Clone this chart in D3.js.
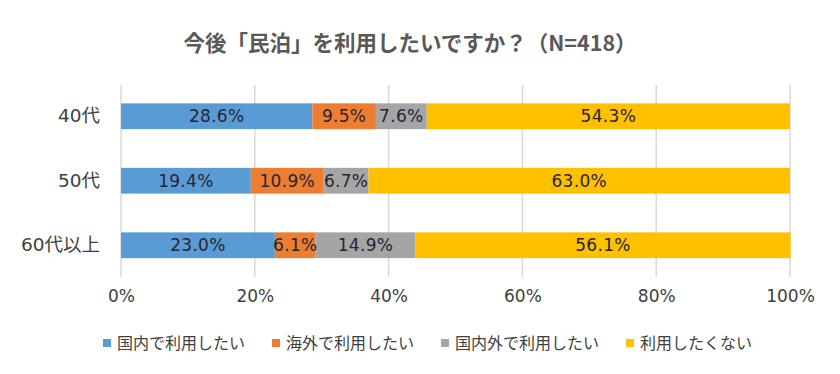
<!DOCTYPE html>
<html><head><meta charset="utf-8">
<script src="https://cdn.jsdelivr.net/npm/d3@7"></script>
<style>
html,body{margin:0;padding:0;background:#fff;}
svg{display:block;font-family:"DejaVu Sans","Noto Sans CJK JP",sans-serif;}
</style></head>
<body><svg id="c" width="840" height="374"></svg>
<script>
const categories = ["40代", "50代", "60代以上"];
const seriesNames = ["国内で利用したい", "海外で利用したい", "国内外で利用したい", "利用したくない"];
const domestic = [28.6, 19.4, 23.0];
const overseas = [9.5, 10.9, 6.1];
const both = [7.6, 6.7, 14.9];
const notUse = [54.3, 63.0, 56.1];
const tickValues = [0, 20, 40, 60, 80, 100];
const colors = ["#5B9BD5", "#ED7D31", "#A5A5A5", "#FFC000"];

const FONT = "\"DejaVu Sans\",\"Noto Sans CJK JP\",sans-serif";
const seriesValues = [domestic, overseas, both, notUse];
const rows = categories.map((c, i) => {
  const r = {cat: c};
  seriesNames.forEach((s, j) => r[s] = seriesValues[j][i]);
  return r;
});
const stacked = d3.stack().keys(seriesNames)(rows);

const svg = d3.select("#c");
const x = d3.scaleLinear().domain([0, 100]).range([121, 790]);
const y = d3.scaleBand().domain(categories).range([84, 277.5]).paddingInner(0.6).paddingOuter(0.3);

// title
svg.append("text").attr("x", 410).attr("y", 51).attr("text-anchor", "middle")
  .attr("font-size", 21.5).attr("font-weight", "bold").attr("fill", "#595959")
  .attr("font-family", "\"Noto Sans CJK JP\",sans-serif")
  .text("今後「民泊」を利用したいですか？（N=418）");

// gridlines
svg.append("g").selectAll("line").data(tickValues).join("line")
  .attr("x1", d => x(d)).attr("x2", d => x(d))
  .attr("y1", 85).attr("y2", 277)
  .attr("stroke", "#D9D9D9").attr("stroke-width", 1.5);

// x axis labels
const xAxis = d3.axisBottom(x).tickValues(tickValues).tickFormat(d => d + "%").tickSize(0).tickPadding(0);
const gx = svg.append("g").attr("transform", "translate(0,290)").call(xAxis);
gx.select(".domain").remove();
gx.selectAll("text").attr("font-size", 17).attr("fill", "#404040").attr("font-family", FONT);

// y axis labels
const yAxis = d3.axisLeft(y).tickSize(0).tickPadding(0);
const gy = svg.append("g").attr("transform", "translate(100,0)").call(yAxis);
gy.select(".domain").remove();
gy.selectAll("text").attr("font-size", 18.5).attr("fill", "#404040").attr("font-family", FONT);

// bars
const layers = svg.append("g").selectAll("g").data(stacked).join("g")
  .attr("fill", (d, i) => colors[i]);
layers.selectAll("rect").data(d => d).join("rect")
  .attr("x", d => x(d[0])).attr("width", d => x(d[1]) - x(d[0]))
  .attr("y", d => y(d.data.cat)).attr("height", y.bandwidth());

// data labels
const lab = svg.append("g").selectAll("g").data(stacked).join("g");
lab.selectAll("text").data(d => d.map(v => ({v, key: d.key}))).join("text")
  .attr("x", d => (x(d.v[0]) + x(d.v[1])) / 2)
  .attr("y", d => y(d.v.data.cat) + y.bandwidth() / 2)
  .attr("dy", "0.36em").attr("text-anchor", "middle")
  .attr("font-size", 17).attr("letter-spacing", 0.3).attr("fill", "#262633")
  .text(d => d.v.data[d.key].toFixed(1) + "%");

// legend
const leg = svg.append("g");
let lx = 103;
seriesNames.forEach((s, i) => {
  leg.append("rect").attr("x", lx).attr("y", 339).attr("width", 8).attr("height", 8).attr("fill", colors[i]);
  const t = leg.append("text").attr("x", lx + 14).attr("y", 343).attr("dy", "0.36em")
    .attr("font-size", 16).attr("fill", "#404040").text(s);
  lx = lx + 14 + t.node().getComputedTextLength() + 27;
});
</script></body></html>
